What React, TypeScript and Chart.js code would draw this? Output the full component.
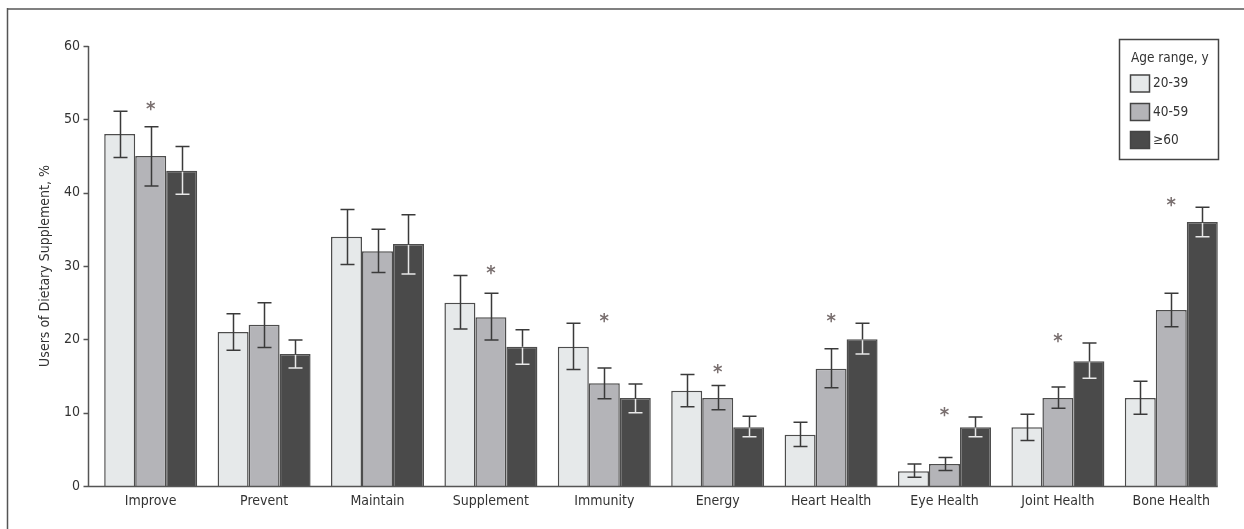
import React, { useEffect, useRef } from "react";
import { Chart, registerables } from "chart.js";

Chart.register(...registerables);

const categories = ["Improve", "Prevent", "Maintain", "Supplement", "Immunity", "Energy", "Heart Health", "Eye Health", "Joint Health", "Bone Health"];
const seriesLabels = ["20-39", "40-59", "\u226560"];
const age20to39 = [48, 21, 34, 25, 19, 13, 7, 2, 8, 12];
const age40to59 = [45, 22, 32, 23, 14, 12, 16, 3, 12, 24];
const age60plus = [43, 18, 33, 19, 12, 8, 20, 8, 17, 36];
const err20to39High = [51.1, 23.5, 37.7, 28.7, 22.2, 15.2, 8.7, 3.0, 9.8, 14.3];
const err20to39Low = [44.8, 18.5, 30.2, 21.4, 15.9, 10.8, 5.4, 1.2, 6.2, 9.8];
const err40to59High = [49.0, 25.0, 35.0, 26.3, 16.1, 13.7, 18.7, 3.9, 13.5, 26.3];
const err40to59Low = [40.9, 18.9, 29.1, 19.9, 11.9, 10.4, 13.4, 2.1, 10.6, 21.7];
const err60plusHigh = [46.3, 19.9, 37.0, 21.3, 13.9, 9.5, 22.2, 9.4, 19.5, 38.0];
const err60plusLow = [39.8, 16.1, 28.9, 16.6, 10.0, 6.7, 18.0, 6.7, 14.7, 34.0];
const significant = [true, false, false, true, true, true, true, true, true, true];
const yTicks = [0, 10, 20, 30, 40, 50, 60];
const yTitle = "Users of Dietary Supplement, %";
const legendTitle = "Age range, y";

const colors = ["#e6e9ea", "#b4b4b8", "#4a4a4a"];
const FONT = "'Liberation Sans Narrow', 'Arial Narrow', 'DejaVu Sans Condensed', sans-serif";
const TEXT = "#333333";

const errHigh = [err20to39High, err40to59High, err60plusHigh];
const errLow = [err20to39Low, err40to59Low, err60plusLow];

const customPlugin = {
  id: "custom",
  beforeDraw(chart: any) {
    const ctx = chart.ctx;
    ctx.save();
    ctx.fillStyle = "#ffffff";
    ctx.fillRect(0, 0, chart.width, chart.height);
    ctx.strokeStyle = "#808080";
    ctx.lineWidth = 2;
    ctx.beginPath();
    ctx.moveTo(7, 9);
    ctx.lineTo(chart.width, 9);
    ctx.stroke();
    ctx.strokeStyle = "#555555";
    ctx.lineWidth = 1.5;
    ctx.beginPath();
    ctx.moveTo(7.5, 8);
    ctx.lineTo(7.5, chart.height);
    ctx.stroke();
    ctx.restore();
  },
  afterDatasetsDraw(chart: any) {
    const ctx = chart.ctx;
    const y = chart.scales.y;
    const area = chart.chartArea;
    ctx.save();
    // error bars
    for (let d = 0; d < 3; d++) {
      const meta = chart.getDatasetMeta(d);
      const vals = chart.data.datasets[d].data;
      meta.data.forEach((bar: any, i: number) => {
        const x = Math.round(bar.x) + 0.5;
        const yh = y.getPixelForValue(errHigh[d][i]);
        const yl = y.getPixelForValue(errLow[d][i]);
        const yt = y.getPixelForValue(vals[i]);
        const cap = 7;
        ctx.lineWidth = 1.5;
        const dark = "#3a3a3a";
        const light = "#e8e8e8";
        if (d === 2) {
          ctx.strokeStyle = dark;
          ctx.beginPath();
          ctx.moveTo(x, yh); ctx.lineTo(x, yt);
          ctx.moveTo(x - cap, yh); ctx.lineTo(x + cap, yh);
          ctx.stroke();
          ctx.strokeStyle = light;
          ctx.beginPath();
          ctx.moveTo(x, yt + 1); ctx.lineTo(x, yl);
          ctx.moveTo(x - cap, yl); ctx.lineTo(x + cap, yl);
          ctx.stroke();
        } else {
          ctx.strokeStyle = dark;
          ctx.beginPath();
          ctx.moveTo(x, yh); ctx.lineTo(x, yl);
          ctx.moveTo(x - cap, yh); ctx.lineTo(x + cap, yh);
          ctx.moveTo(x - cap, yl); ctx.lineTo(x + cap, yl);
          ctx.stroke();
        }
      });
    }
    // asterisks
    const midMeta = chart.getDatasetMeta(1);
    ctx.fillStyle = "#7a7070";
    ctx.font = `bold 20px ${FONT}`;
    ctx.textAlign = "center";
    ctx.textBaseline = "alphabetic";
    significant.forEach((s, i) => {
      if (!s) return;
      const top = Math.max(err20to39High[i], err40to59High[i], err60plusHigh[i]) + 1.15;
      const py = y.getPixelForValue(top);
      ctx.fillText("*", midMeta.data[i].x, py + 12);
    });
    // axes
    const axisX = 88.5;
    ctx.strokeStyle = "#555555";
    ctx.lineWidth = 1.5;
    ctx.beginPath();
    ctx.moveTo(axisX, y.getPixelForValue(60));
    ctx.lineTo(axisX, area.bottom);
    yTicks.forEach((t) => {
      const py = Math.round(y.getPixelForValue(t)) + 0.5;
      ctx.moveTo(axisX - 5, py);
      ctx.lineTo(axisX, py);
    });
    const lastMeta = chart.getDatasetMeta(2);
    const lastBar = lastMeta.data[lastMeta.data.length - 1];
    const xr = lastBar.x + lastBar.width / 2;
    const by = Math.round(area.bottom) + 0.5;
    ctx.moveTo(axisX - 1, by);
    ctx.lineTo(xr, by);
    ctx.stroke();
    // y title
    ctx.save();
    ctx.translate(45, (area.top + area.bottom) / 2);
    ctx.rotate(-Math.PI / 2);
    ctx.fillStyle = TEXT;
    ctx.font = `14px ${FONT}`;
    ctx.textAlign = "center";
    ctx.textBaseline = "middle";
    ctx.fillText(yTitle, 0, 0);
    ctx.restore();
    // legend
    ctx.strokeStyle = "#444444";
    ctx.lineWidth = 1.5;
    ctx.strokeRect(1119.5, 39.5, 99, 120);
    ctx.fillStyle = TEXT;
    ctx.font = `13.5px ${FONT}`;
    ctx.textAlign = "left";
    ctx.textBaseline = "middle";
    ctx.fillText(legendTitle, 1131, 58);
    const ys = [83.5, 112, 140];
    seriesLabels.forEach((lab, k) => {
      ctx.fillStyle = colors[k];
      ctx.fillRect(1130.5, ys[k] - 8.5, 19, 17);
      ctx.strokeStyle = "#444444";
      ctx.lineWidth = 1.5;
      ctx.strokeRect(1130.5, ys[k] - 8.5, 19, 17);
      ctx.fillStyle = TEXT;
      ctx.fillText(lab, 1153, ys[k]);
    });
    ctx.restore();
  },
};

export default function App() {
  const ref = useRef<HTMLCanvasElement | null>(null);
  useEffect(() => {
    if (!ref.current) return;
    const data = [age20to39, age40to59, age60plus];
    const chart = new Chart(ref.current, {
      type: "bar",
      data: {
        labels: categories,
        datasets: data.map((vals, k) => ({
          label: seriesLabels[k],
          data: vals,
          backgroundColor: colors[k],
          borderColor: "#4d4d4d",
          borderWidth: 1.5,
          categoryPercentage: 0.82,
          barPercentage: 1.0,
        })),
      },
      options: {
        animation: false,
        responsive: false,
        layout: { padding: { top: 46, right: 16, bottom: 0, left: 0 } },
        plugins: { legend: { display: false }, tooltip: { enabled: false }, title: { display: false } },
        scales: {
          x: {
            grid: { display: false, drawTicks: false },
            border: { display: false },
            ticks: { color: TEXT, font: { family: FONT, size: 14 }, padding: 7, maxRotation: 0, autoSkip: false },
            afterFit: (s: any) => { s.height = 43; },
          },
          y: {
            min: 0,
            max: 60,
            grid: { display: false, drawTicks: false },
            border: { display: false },
            ticks: { stepSize: 10, color: TEXT, font: { family: FONT, size: 14 }, padding: 14 },
            afterFit: (s: any) => { s.width = 94; },
          },
        },
      },
      plugins: [customPlugin],
    });
    return () => chart.destroy();
  }, []);
  return (
    <div style={{ position: "fixed", left: 0, top: 0, width: 1244, height: 529, background: "#fff" }}>
      <canvas ref={ref} width={1244} height={529} style={{ display: "block" }} />
    </div>
  );
}
